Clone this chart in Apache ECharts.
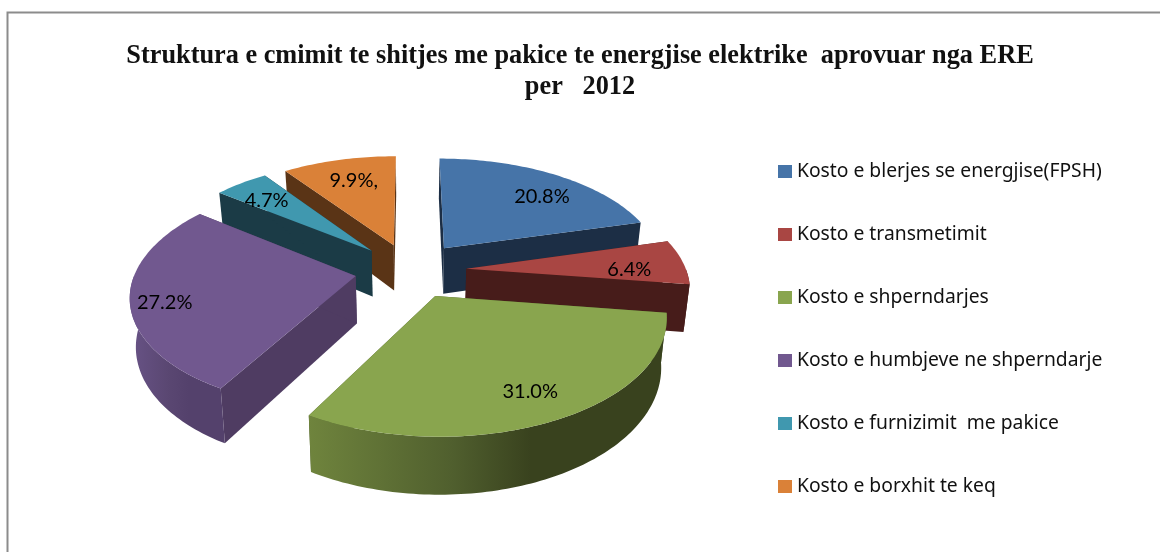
<!DOCTYPE html>
<html>
<head>
<meta charset="utf-8">
<style>html,body{margin:0;padding:0;background:#fff}#c{width:1160px;height:552px}</style>
<script src="https://cdn.jsdelivr.net/npm/echarts@6/dist/echarts.min.js"></script>
</head>
<body>
<div id="c"></div>
<script>
// ---- data ----
const categories = ['Kosto e blerjes se energjise(FPSH)','Kosto e transmetimit','Kosto e shperndarjes','Kosto e humbjeve ne shperndarje','Kosto e furnizimit  me pakice','Kosto e borxhit te keq'];
const values = [20.8, 6.4, 31.0, 27.2, 4.7, 9.9];
const valueLabels = ['20.8%','6.4%','31.0%','27.2%','4.7%','9.9%,'];
const titleText = 'Struktura e cmimit te shitjes me pakice te energjise elektrike  aprovuar nga ERE\nper   2012';

// ---- style ----
const topColors  = ['#4674A8','#A94643','#89A54E','#71588F','#4098AF','#DA8138'];
const radialWall = ['#1C2E45','#471C1A','#4A5A2A','#4F3C62','#1B3B46','#5A3416'];
const arcWallL   = ['#1C2E45','#471C1A','#6F843D','#685386','#1B3B46','#5A3416'];
const arcWallM   = ['#1C2E45','#471C1A','#505F2E','#5A4772','#1B3B46','#5A3416'];
const arcWallR   = ['#1C2E45','#471C1A','#39421E','#54416C','#1B3B46','#5A3416'];
const paintOrder = [5, 0, 4, 1, 3, 2];
const labelShift = [[98,-52],[163,1],[95,96],[-191,27],[-105,-50],[-40,-65]];
const explode = [0.262,0.257,0.25,0.25,0.258,0.25];
const G = {cx:410, cy:270.5, rx:220, ry:110, k:0.155, h:47, taper:0.022};

const total = values.reduce((a,b)=>a+b,0);
function angles(i){
  let s = 0; for(let j=0;j<i;j++) s += values[j];
  return [s/total*2*Math.PI, (s+values[i])/total*2*Math.PI];
}
function proj(X,Y,z){
  const p = 1/(1-G.k*Y), t = 1-G.taper*z;
  return [G.cx + X*G.rx*p*t, G.cy + Y*G.ry*p + z*G.h*p];
}
function renderSlice(i){
  const [a0,a1] = angles(i), m=(a0+a1)/2, E=explode[i];
  const ax=E*Math.sin(m), ay=-E*Math.cos(m);
  const n = Math.max(4, Math.ceil((a1-a0)/0.02));
  const rim=[], front=[];
  for(let q=0;q<=n;q++){
    const a=a0+(a1-a0)*q/n, r=[ax+Math.sin(a),ay-Math.cos(a)];
    rim.push(r);
    if(Math.cos(a)<0) front.push(r);
  }
  const top = rim.map(r=>proj(r[0],r[1],0)), bot = rim.map(r=>proj(r[0],r[1],1));
  const fT = front.map(r=>proj(r[0],r[1],0)), fB = front.map(r=>proj(r[0],r[1],1));
  const aT = proj(ax,ay,0), aB = proj(ax,ay,1);
  const xs = top.concat(bot).map(p=>p[0]);
  const x0=Math.min(...xs), x1=Math.max(...xs);
  const poly=(pts,fill)=>({type:'polygon',shape:{points:pts},style:{fill:fill,stroke:null},silent:true});
  const grad={type:'linear',x:x0,y:0,x2:x1,y2:0,global:true,colorStops:[{offset:0,color:arcWallL[i]},{offset:0.4,color:arcWallM[i]},{offset:0.62,color:arcWallR[i]},{offset:1,color:arcWallR[i]}]};
  const kids=[
    poly([aT,top[0],bot[0],aB],radialWall[i]),
    poly([aT,top[n],bot[n],aB],radialWall[i])
  ];
  if(fT.length>1) kids.push(poly(fT.concat(fB.slice().reverse()),grad));
  kids.push(poly([aT].concat(top),topColors[i]));
  kids.push({type:'text',x:aT[0]+labelShift[i][0],y:aT[1]+labelShift[i][1],
      style:{text:valueLabels[i],fill:'#000',font:'20px Lato',align:'center',verticalAlign:'middle'},silent:true});
  return {type:'group',children:kids};
}
const series = paintOrder.map(i=>({
  type:'custom',name:categories[i],coordinateSystem:'none',
  data:[[values[i]]],itemStyle:{color:topColors[i]},
  renderItem:()=>renderSlice(i)
}));

const chart = echarts.init(document.getElementById('c'),null,{renderer:'canvas'});
chart.setOption({
  animation:false,
  backgroundColor:'#fff',
  title:{text:titleText,left:575,top:36,textAlign:'center',
    textStyle:{fontFamily:'Liberation Serif',fontWeight:'bold',fontSize:26.3,lineHeight:31,color:'#111'}},
  legend:{data:categories,orient:'vertical',left:773,top:157,itemWidth:14,itemHeight:13,itemGap:44,
    icon:'rect',selectedMode:false,textStyle:{fontFamily:'Noto Sans',fontSize:19.3,color:'#111',lineHeight:13}},
  graphic:[{type:'polyline',shape:{points:[[7.5,552],[7.5,12.5],[1160,12.5]]},style:{stroke:'#8c8c8c',lineWidth:2,fill:null},silent:true}],
  series:series
});
</script>
</body>
</html>
